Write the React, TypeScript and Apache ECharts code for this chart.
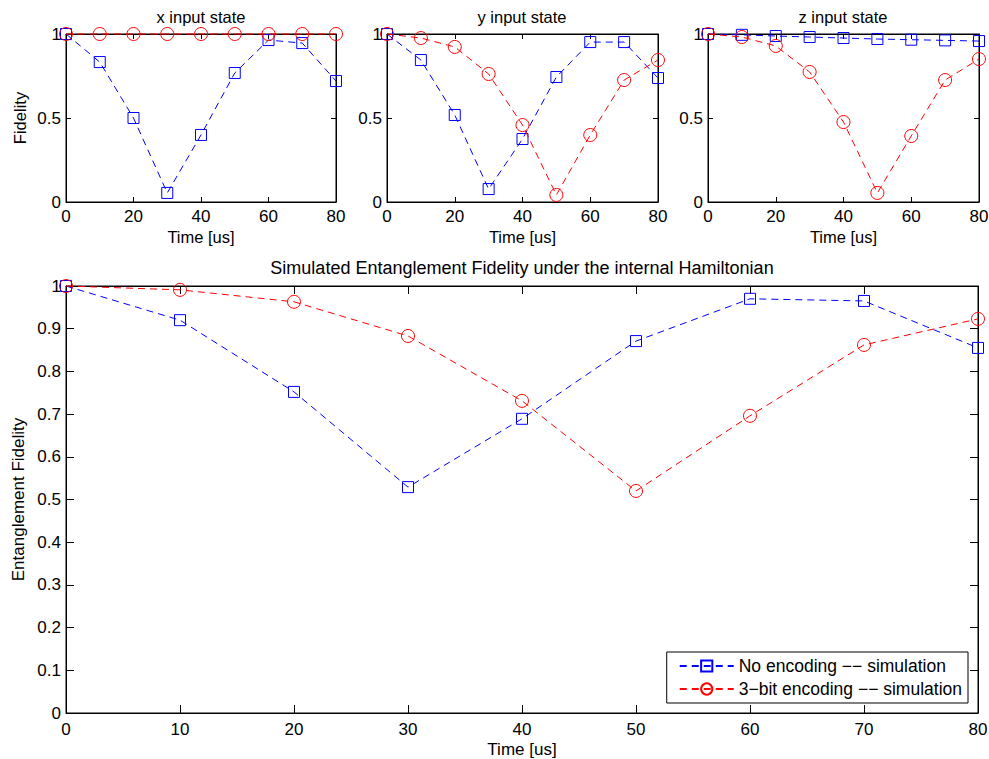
import React, { useEffect, useRef } from "react";
import * as echarts from "echarts";

const timeUs = [0, 10, 20, 30, 40, 50, 60, 70, 80];

const xStateNoEnc = [1.0, 0.833, 0.5, 0.054, 0.399, 0.768, 0.964, 0.946, 0.72];
const xStateEnc = [1.0, 1.0, 1.0, 1.0, 1.0, 1.0, 1.0, 1.0, 1.0];
const yStateNoEnc = [1.0, 0.845, 0.518, 0.077, 0.375, 0.744, 0.952, 0.952, 0.738];
const yStateEnc = [1.0, 0.976, 0.923, 0.762, 0.458, 0.042, 0.399, 0.726, 0.845];
const zStateNoEnc = [1.0, 0.995, 0.988, 0.982, 0.976, 0.97, 0.966, 0.962, 0.958];
const zStateEnc = [1.0, 0.982, 0.929, 0.774, 0.476, 0.054, 0.393, 0.726, 0.851];
const entNoEnc = [1.0, 0.92, 0.752, 0.529, 0.689, 0.871, 0.97, 0.965, 0.855];
const entEnc = [1.0, 0.991, 0.963, 0.883, 0.731, 0.52, 0.696, 0.862, 0.923];

const subTitles = ["x input state", "y input state", "z input state"];
const mainTitle = "Simulated Entanglement Fidelity under the internal Hamiltonian";
const legendNames = ["No encoding −− simulation", "3−bit encoding −− simulation"];

const FONT = "'Liberation Sans', Arial, Helvetica, sans-serif";
const BLUE = "#0000ff";
const RED = "#ff0000";

export default function App() {
  const ref = useRef<HTMLDivElement>(null);
  useEffect(() => {
    if (!ref.current) return;
    document.body.style.margin = "0";
    const chart = echarts.init(ref.current, null, { renderer: "svg" });

    const grids = [
      { left: 66, top: 34, width: 270, height: 168 },
      { left: 387, top: 34, width: 271, height: 168 },
      { left: 708, top: 34, width: 271, height: 168 },
      { left: 66, top: 286, width: 912, height: 427 },
    ].map((g) => ({
      ...g,
      show: true,
      borderColor: "#000",
      borderWidth: 1,
      backgroundColor: "#fff",
      containLabel: false,
      outerBoundsMode: "none",
    }));

    const xAxes: any[] = [];
    const yAxes: any[] = [];
    for (let i = 0; i < 4; i++) {
      const big = i === 3;
      const tickLen = big ? 8 : 5;
      const xInt = big ? 10 : 20;
      const yInt = big ? 0.1 : 0.5;
      const tickStyle = { color: "#000", fontFamily: FONT, fontSize: 17 };
      const nameStyle = { color: "#000", fontFamily: FONT, fontSize: big ? 17 : 16.5 };
      const common = {
        gridIndex: i,
        type: "value",
        min: 0,
        splitLine: { show: false },
        axisLine: { show: true, onZero: false, lineStyle: { color: "#000", width: 1 } },
        axisTick: { show: true, inside: true, length: tickLen, lineStyle: { color: "#000" } },
      };
      xAxes.push({
        ...common,
        max: 80,
        interval: xInt,
        position: "bottom",
        axisLabel: { ...tickStyle, margin: big ? 8 : 6 },
        name: "Time [us]",
        nameLocation: "middle",
        nameGap: big ? 28 : 26,
        nameMoveOverlap: false,
        nameTextStyle: nameStyle,
      });
      xAxes.push({
        ...common,
        max: 80,
        interval: xInt,
        position: "top",
        axisLabel: { show: false },
      });
      yAxes.push({
        ...common,
        max: 1,
        interval: yInt,
        position: "left",
        axisLabel: { ...tickStyle, margin: 5, formatter: (v: number) => String(Math.round(v * 10) / 10) },
        name: i === 0 ? "Fidelity" : big ? "Entanglement Fidelity" : "",
        nameLocation: "middle",
        nameGap: big ? 39 : 38,
        nameMoveOverlap: false,
        nameTextStyle: nameStyle,
      });
      yAxes.push({
        ...common,
        max: 1,
        interval: yInt,
        position: "right",
        axisLabel: { show: false },
      });
    }

    const pairs = (vals: number[]) => timeUs.map((t, k) => [t, vals[k]]);
    const mk = (name: string, vals: number[], idx: number, red: boolean) => ({
      name,
      type: "line",
      xAxisIndex: idx * 2,
      yAxisIndex: idx * 2,
      data: pairs(vals),
      clip: false,
      symbol: red ? "circle" : "rect",
      symbolSize: red ? 13 : 11,
      showSymbol: true,
      itemStyle: { color: "rgba(0,0,0,0)", borderColor: red ? RED : BLUE, borderWidth: 1 },
      lineStyle: { color: red ? RED : BLUE, width: 1, type: [7, 5] },
      emphasis: { disabled: true },
      z: red ? 3 : 2,
    });

    const series = [
      mk("x-none", xStateNoEnc, 0, false),
      mk("x-enc", xStateEnc, 0, true),
      mk("y-none", yStateNoEnc, 1, false),
      mk("y-enc", yStateEnc, 1, true),
      mk("z-none", zStateNoEnc, 2, false),
      mk("z-enc", zStateEnc, 2, true),
      mk(legendNames[0], entNoEnc, 3, false),
      mk(legendNames[1], entEnc, 3, true),
    ];

    const titleCenters = [201, 522, 843];
    const graphics: any[] = subTitles.map((t, i) => ({
      type: "text",
      x: titleCenters[i],
      y: 17,
      style: { text: t, textAlign: "center", textVerticalAlign: "middle", font: `16.5px ${FONT}`, fill: "#000" },
    }));
    graphics.push({
      type: "text",
      x: 522,
      y: 268,
      style: { text: mainTitle, textAlign: "center", textVerticalAlign: "middle", font: `18px ${FONT}`, fill: "#000" },
    });

    chart.setOption({
      animation: false,
      backgroundColor: "#fff",
      grid: grids,
      xAxis: xAxes,
      yAxis: yAxes,
      series,
      graphic: graphics,
      legend: {
        data: legendNames,
        orient: "vertical",
        right: 21,
        bottom: 56,
        backgroundColor: "#fff",
        borderColor: "#000",
        borderWidth: 1,
        padding: [5, 6, 5, 12],
        itemGap: 5,
        itemWidth: 54,
        itemHeight: 14,
        textStyle: { color: "#000", fontFamily: FONT, fontSize: 17.5 },
        selectedMode: false,
      },
    });
    return () => chart.dispose();
  }, []);
  return <div ref={ref} style={{ position: "absolute", left: 0, top: 0, width: 989, height: 759 }} />;
}
